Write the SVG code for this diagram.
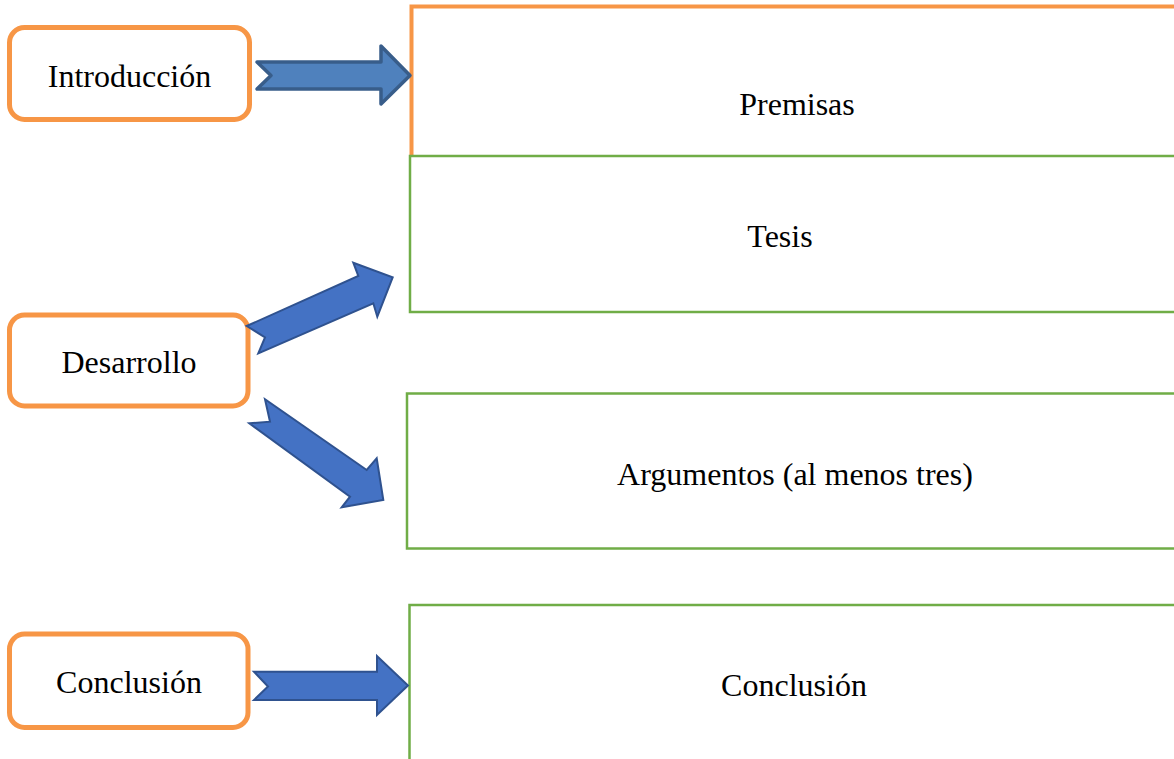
<svg xmlns="http://www.w3.org/2000/svg" width="1174" height="759" viewBox="0 0 1174 759">
<style>
.t{font-family:"Liberation Serif","Times New Roman",serif;font-size:32px;fill:#000;text-anchor:middle}
.lb{fill:#fff;stroke:#F79646;stroke-width:5}
.gb{fill:#fff;stroke:#70AD47;stroke-width:2.5}
.ob{fill:#fff;stroke:#F79646;stroke-width:4}
.a1{fill:#4F81BD;stroke:#385D8A;stroke-width:3.5;stroke-linejoin:round}
.a2{fill:#4472C4;stroke:#2F528F;stroke-width:2;stroke-linejoin:miter}
</style>
<rect width="1174" height="759" fill="#fff"/>
<g id="premisas"><rect class="ob" x="411.5" y="6.5" width="800" height="151"/><text class="t" x="797" y="115">Premisas</text></g>
<g id="tesis"><rect class="gb" x="410" y="156" width="800" height="156"/><text class="t" x="780" y="247">Tesis</text></g>
<g id="argumentos"><rect class="gb" x="407" y="393.5" width="800" height="155"/><text class="t" x="795" y="485">Argumentos (al menos tres)</text></g>
<g id="conclusion2"><rect class="gb" x="409.5" y="605" width="800" height="200"/><text class="t" x="794" y="696">Conclusión</text></g>
<g id="introduccion"><rect class="lb" x="9.5" y="27.5" width="240" height="92" rx="15"/><text class="t" x="129.5" y="87">Introducción</text></g>
<g id="desarrollo"><rect class="lb" x="9.5" y="315" width="238.5" height="91" rx="15"/><text class="t" x="129" y="373">Desarrollo</text></g>
<g id="conclusion1"><rect class="lb" x="9.5" y="634" width="238.5" height="93.5" rx="15"/><text class="t" x="129" y="693">Conclusión</text></g>
<g id="connectors">
<polygon class="a1" points="257,62 271,75.5 257,89 381,89 381,104 410,75.5 381,46 381,62"/>
<polygon class="a2" points="246.7,326 265,337.3 258.3,353.3 373.3,303.3 377.3,316.7 392.7,277.3 353.3,262.7 358.3,276"/>
<polygon class="a2" points="265,399.3 270,421.7 249.3,423.3 350,496.7 341.7,507.3 383.3,500 376.7,458.3 366.7,470"/>
<polygon class="a2" points="254,671.7 268,686.5 254,700 377,700 377,715 408,685.5 377,656 377,671.7"/>
</g>
</svg>
